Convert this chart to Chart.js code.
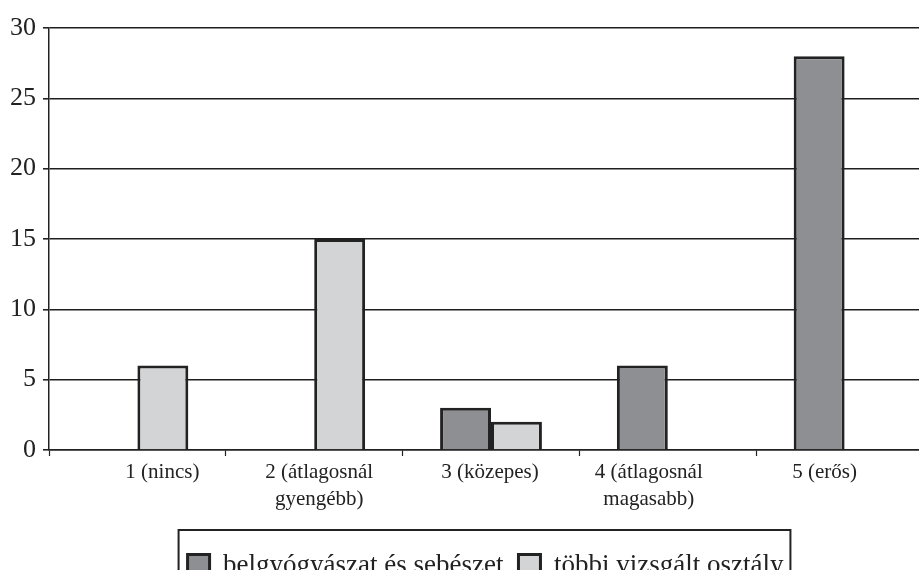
<!DOCTYPE html>
<html>
<head>
<meta charset="utf-8">
<script src="https://cdn.jsdelivr.net/npm/chart.js@4.4.1/dist/chart.umd.min.js"></script>
<style>
  html, body { margin: 0; padding: 0; background: #fff; overflow: hidden; width: 919px; height: 570px; }
  #wrap { position: absolute; left: 0; top: 0; width: 933px; height: 640px; }
</style>
</head>
<body>
<div id="wrap"><canvas id="c" width="933" height="640"></canvas></div>
<script>
// Categories (x axis), multi-line labels as arrays
const categories = [
  ['1 (nincs)'],
  ['2 (átlagosnál', 'gyengébb)'],
  ['3 (közepes)'],
  ['4 (átlagosnál', 'magasabb)'],
  ['5 (erős)']
];
// Series values (null = no bar)
const belgySeb = [null, null, 3, 6, 28];
const tobbiOsztaly = [6, 15, 2, null, null];
// Series names
const seriesNames = ['belgyógyászat és sebészet', 'többi vizsgált osztály'];
// Y axis range
const yMin = 0, yMax = 30, yStep = 5;

const SERIF = "'Liberation Serif', 'Times New Roman', serif";
const INK = '#222222';

// Horizontal nudge of each category label relative to its category centre (px)
const labelNudge = [25, 5, -1, -19, -20];
const X_LABEL_SIZE = 21;
const X_LABEL_LINE = 27;

// Category labels, drawn under the axis with their own horizontal nudge
const categoryLabels = {
  id: 'categoryLabels',
  afterDraw(chart) {
    const xs = chart.scales.x;
    const ctx = chart.ctx;
    ctx.save();
    ctx.fillStyle = INK;
    ctx.font = X_LABEL_SIZE + 'px ' + SERIF;
    ctx.textAlign = 'center';
    ctx.textBaseline = 'middle';
    categories.forEach((lines, i) => {
      const cx = xs.getPixelForValue(i) + labelNudge[i];
      lines.forEach((line, j) => {
        ctx.fillText(line, cx, xs.top + 22 + j * X_LABEL_LINE);
      });
    });
    ctx.restore();
  }
};

// Nudge the legend row to the right and draw a frame around it
const legendFrame = {
  id: 'legendFrame',
  afterLayout(chart) {
    if (chart.legend) chart.legend.left += 38;
  },
  afterDraw(chart) {
    const lg = chart.legend;
    if (!lg || !lg.legendHitBoxes || !lg.legendHitBoxes.length) return;
    const hb = lg.legendHitBoxes;
    const left = hb[0].left - 9;
    const last = hb[hb.length - 1];
    const right = last.left + last.width + 7;
    const top = chart.scales.x.top + 80;
    const ctx = chart.ctx;
    ctx.save();
    ctx.strokeStyle = INK;
    ctx.lineWidth = 2;
    ctx.strokeRect(left, top, right - left, chart.height - top + 20);
    ctx.restore();
  }
};

const chart = new Chart(document.getElementById('c'), {
  type: 'bar',
  data: {
    labels: categories,
    datasets: [
      {
        label: seriesNames[0],
        data: belgySeb,
        backgroundColor: '#8e8f93',
        borderColor: INK,
        borderWidth: 3,
        barPercentage: 1,
        categoryPercentage: 0.576
      },
      {
        label: seriesNames[1],
        data: tobbiOsztaly,
        backgroundColor: '#d3d4d6',
        borderColor: INK,
        borderWidth: 3,
        barPercentage: 1,
        categoryPercentage: 0.576
      }
    ]
  },
  options: {
    responsive: false,
    animation: false,
    devicePixelRatio: 1,
    layout: { padding: { left: 0, right: 0, top: 28, bottom: 0 } },
    plugins: {
      legend: {
        position: 'bottom',
        align: 'center',
        labels: {
          color: INK,
          font: { family: SERIF, size: 27 },
          boxWidth: 22,
          boxHeight: 22,
          padding: 15
        }
      },
      tooltip: { enabled: false },
      title: { display: false }
    },
    scales: {
      x: {
        afterFit(scale) { scale.height = 87; },
        grid: {
          display: true,
          drawOnChartArea: false,
          drawTicks: true,
          tickLength: 6,
          tickColor: INK,
          tickWidth: 1.2,
          offset: true
        },
        border: { display: true, color: INK, width: 1.5 },
        ticks: {
          display: false,
          autoSkip: false
        }
      },
      y: {
        min: yMin,
        max: yMax,
        afterFit(scale) { scale.width = 49; },
        grid: {
          color: '#1e1e1e',
          lineWidth: 1.6,
          drawTicks: true,
          tickLength: 6,
          tickColor: INK
        },
        border: { display: true, color: INK, width: 1.5 },
        ticks: {
          stepSize: yStep,
          color: INK,
          font: { family: SERIF, size: 26 },
          padding: 7
        }
      }
    }
  },
  plugins: [categoryLabels, legendFrame]
});

// Fix the bottom padding so the plot area ends at the intended baseline
(function () {
  const target = 450;
  const diff = chart.chartArea.bottom - target;
  chart.options.layout.padding.bottom = Math.max(0, diff);
  chart.update();
})();
</script>
</body>
</html>
